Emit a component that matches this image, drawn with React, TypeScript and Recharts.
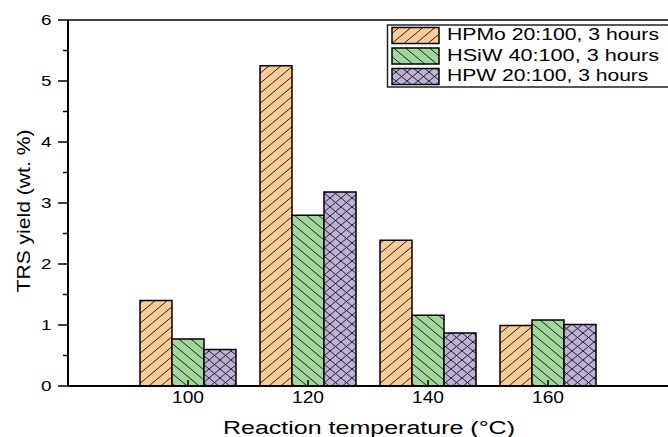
import { BarChart, Bar, XAxis, YAxis, ReferenceLine } from 'recharts';

const temps = ['100', '120', '140', '160'];
const hpmo = [1.4, 5.25, 2.39, 0.99];
const hsiw = [0.77, 2.8, 1.16, 1.08];
const hpw = [0.6, 3.18, 0.87, 1.01];
const yTicks = [0, 0.5, 1, 1.5, 2, 2.5, 3, 3.5, 4, 4.5, 5, 5.5, 6];

const seriesNames = ['HPMo 20:100, 3 hours', 'HSiW 40:100, 3 hours', 'HPW 20:100, 3 hours'];
const patternIds = ['hatchOrange', 'hatchGreen', 'hatchPurple'];

const data = temps.map((t, i) => ({ temp: t, hpmo: hpmo[i], hsiw: hsiw[i], hpw: hpw[i] }));

const font = '"Liberation Sans", Arial, sans-serif';

// the source image is stretched sideways, so text gets a fixed textLength
function YTick(props: any) {
    const { x, y, payload } = props;
    const v = payload.value;
    const major = Number.isInteger(v);
    return (
        <g>
            <line x1={x + (major ? 6 : 11)} x2={x + 16} y1={y} y2={y} stroke="#000" strokeWidth={1.5} />
            {major && (
                <text x={x - 0.5} y={y} dy={5} textAnchor="end" fontSize={14} fill="#000" fontFamily={font}
                    textLength={10.5} lengthAdjust="spacingAndGlyphs">{v}</text>
            )}
        </g>
    );
}

function XTick(props: any) {
    const { x, y, payload } = props;
    return (
        <g>
            <line x1={x} x2={x} y1={y} y2={y - 6} stroke="#000" strokeWidth={1.5} />
            <text x={x} y={y + 17} textAnchor="middle" fontSize={16} fill="#000" fontFamily={font}
                textLength={32} lengthAdjust="spacingAndGlyphs">{payload.value}</text>
        </g>
    );
}

function XLabel() {
    return (
        <text x={369} y={434} textAnchor="middle" fontSize={18} fill="#000" fontFamily={font}
            textLength={292} lengthAdjust="spacingAndGlyphs">Reaction temperature (°C)</text>
    );
}

function YLabel() {
    return (
        <text x={0} y={0} transform="translate(30,211) rotate(-90)" textAnchor="middle" fontSize={19} fill="#000" fontFamily={font}
            textLength={163} lengthAdjust="spacingAndGlyphs">TRS yield (wt. %)</text>
    );
}

function Patterns() {
    return (
        <defs>
            <pattern id="hatchOrange" width="12" height="10" patternUnits="userSpaceOnUse">
                <rect width="12" height="10" fill="#FDCB95" />
                <path d="M0,10 L12,0 M-3,2.5 L3,-2.5 M9,12.5 L15,7.5" stroke="#222" strokeWidth="1" />
            </pattern>
            <pattern id="hatchGreen" width="12" height="10" patternUnits="userSpaceOnUse">
                <rect width="12" height="10" fill="#A0D89B" />
                <path d="M0,0 L12,10 M-3,7.5 L3,12.5 M9,-2.5 L15,2.5" stroke="#222" strokeWidth="1" />
            </pattern>
            <pattern id="hatchPurple" width="11" height="9" patternUnits="userSpaceOnUse">
                <rect width="11" height="9" fill="#BEB1D8" />
                <path d="M0,0 L11,9 M0,9 L11,0" stroke="#222" strokeWidth="1" />
            </pattern>
        </defs>
    );
}

function LegendBox() {
    return (
        <svg width={668} height={437} style={{ position: 'absolute', left: 0, top: 0, pointerEvents: 'none' }}>
            <rect x={387.5} y={25} width={290} height={62} fill="#fff" stroke="#222" strokeWidth={1.5} />
            {seriesNames.map((n, i) => (
                <g key={n}>
                    <rect x={392} y={27.5 + i * 20.5} width={47} height={16} fill={`url(#${patternIds[i]})`} stroke="#000" strokeWidth={1.5} />
                    <text x={447} y={40 + i * 20.5} fontSize={16} fill="#000" fontFamily={font}
                        textLength={n.length * 10.6} lengthAdjust="spacingAndGlyphs">{n}</text>
                </g>
            ))}
        </svg>
    );
}

export default function App() {
    return (
        <div style={{ position: 'absolute', left: 0, top: 0, width: 668, height: 437, background: '#fff', overflow: 'hidden' }}>
            <BarChart width={668} height={437} data={data} margin={{ top: 20, right: 0, left: 0, bottom: 0 }} barGap={0} barCategoryGap={0}>
                <Patterns />
                <XAxis
                    dataKey="temp"
                    padding={{ left: 60, right: 60 }}
                    axisLine={{ stroke: '#000', strokeWidth: 2 }}
                    tickLine={false}
                    tickSize={0}
                    tickMargin={0}
                    tick={<XTick />}
                    height={51}
                    label={<XLabel />}
                />
                <YAxis
                    domain={[0, 6]}
                    ticks={yTicks}
                    interval={0}
                    width={68}
                    axisLine={{ stroke: '#000', strokeWidth: 2 }}
                    tickLine={false}
                    tickSize={10}
                    tickMargin={6}
                    tick={<YTick />}
                    label={<YLabel />}
                />
                <ReferenceLine y={6} stroke="#000" strokeWidth={1.5} />
                <Bar dataKey="hpmo" name={seriesNames[0]} barSize={32} fill="url(#hatchOrange)" stroke="#000" strokeWidth={1.5} isAnimationActive={false} />
                <Bar dataKey="hsiw" name={seriesNames[1]} barSize={32} fill="url(#hatchGreen)" stroke="#000" strokeWidth={1.5} isAnimationActive={false} />
                <Bar dataKey="hpw" name={seriesNames[2]} barSize={32} fill="url(#hatchPurple)" stroke="#000" strokeWidth={1.5} isAnimationActive={false} />
            </BarChart>
            <LegendBox />
        </div>
    );
}
